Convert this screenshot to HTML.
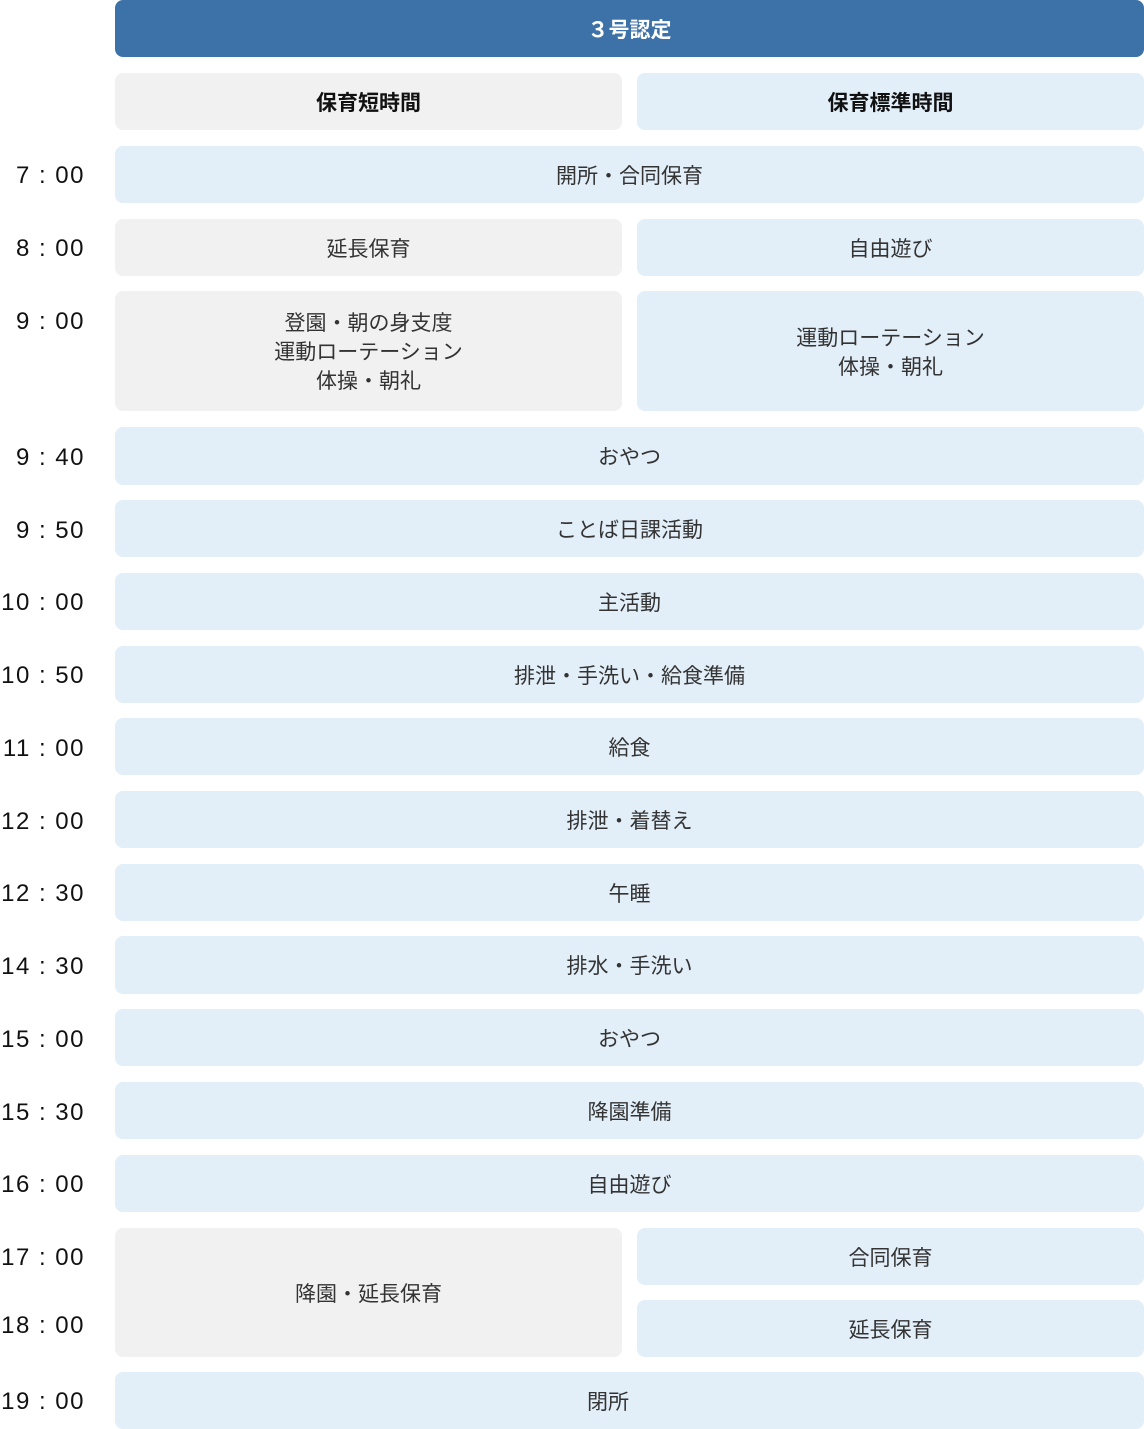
<!DOCTYPE html>
<html><head><meta charset="utf-8"><style>
body{margin:0;width:1144px;height:1429px;position:relative;background:#fff;font-family:"Liberation Sans","Noto Sans CJK JP",sans-serif;overflow:hidden}
.b{position:absolute;border-radius:8px;display:flex;align-items:center;justify-content:center;text-align:center;font-size:21px;color:#333;line-height:29px;background:#e2eef8;padding-top:3px;box-sizing:border-box}
.g{background:#f1f1f1}
.h{font-weight:bold;color:#111}
.t{position:absolute;right:1059px;font-size:24px;color:#111;white-space:nowrap;letter-spacing:1.5px;font-weight:500}
</style></head><body>
<div class="b h" style="left:115px;top:0;width:1029px;height:57px;background:#3d72a8;color:#fff;">３号認定</div>
<div class="b g h" style="left:115px;top:73px;width:507px;height:57px">保育短時間</div>
<div class="b h" style="left:637px;top:73px;width:507px;height:57px">保育標準時間</div>

<div class="t" style="top:162px">7 : 00</div>
<div class="b" style="left:115px;top:146px;width:1029px;height:57px">開所・合同保育</div>
<div class="t" style="top:235px">8 : 00</div>
<div class="b g" style="left:115px;top:219px;width:507px;height:57px">延長保育</div>
<div class="b" style="left:637px;top:219px;width:507px;height:57px">自由遊び</div>
<div class="t" style="top:308px">9 : 00</div>
<div class="b g" style="left:115px;top:291px;width:507px;height:120px">登園・朝の身支度<br>運動ローテーション<br>体操・朝礼</div>
<div class="b" style="left:637px;top:291px;width:507px;height:120px">運動ローテーション<br>体操・朝礼</div>
<div class="t" style="top:444px">9 : 40</div>
<div class="b" style="left:115px;top:427px;width:1029px;height:58px">おやつ</div>
<div class="t" style="top:517px">9 : 50</div>
<div class="b" style="left:115px;top:500px;width:1029px;height:57px">ことば日課活動</div>
<div class="t" style="top:589px">10 : 00</div>
<div class="b" style="left:115px;top:573px;width:1029px;height:57px">主活動</div>
<div class="t" style="top:662px">10 : 50</div>
<div class="b" style="left:115px;top:646px;width:1029px;height:57px">排泄・手洗い・給食準備</div>
<div class="t" style="top:735px">11 : 00</div>
<div class="b" style="left:115px;top:718px;width:1029px;height:57px">給食</div>
<div class="t" style="top:808px">12 : 00</div>
<div class="b" style="left:115px;top:791px;width:1029px;height:57px">排泄・着替え</div>
<div class="t" style="top:880px">12 : 30</div>
<div class="b" style="left:115px;top:864px;width:1029px;height:57px">午睡</div>
<div class="t" style="top:953px">14 : 30</div>
<div class="b" style="left:115px;top:936px;width:1029px;height:58px">排水・手洗い</div>
<div class="t" style="top:1026px">15 : 00</div>
<div class="b" style="left:115px;top:1009px;width:1029px;height:57px">おやつ</div>
<div class="t" style="top:1099px">15 : 30</div>
<div class="b" style="left:115px;top:1082px;width:1029px;height:57px">降園準備</div>
<div class="t" style="top:1171px">16 : 00</div>
<div class="b" style="left:115px;top:1155px;width:1029px;height:57px">自由遊び</div>
<div class="t" style="top:1244px">17 : 00</div>
<div class="b g" style="left:115px;top:1228px;width:507px;height:129px">降園・延長保育</div>
<div class="b" style="left:637px;top:1228px;width:507px;height:57px">合同保育</div>
<div class="t" style="top:1312px">18 : 00</div>
<div class="b" style="left:637px;top:1300px;width:507px;height:57px">延長保育</div>
<div class="t" style="top:1388px">19 : 00</div>
<div class="b" style="left:115px;top:1372px;width:1029px;height:57px;justify-content:flex-start;padding-left:472px">閉所</div>
</body></html>
